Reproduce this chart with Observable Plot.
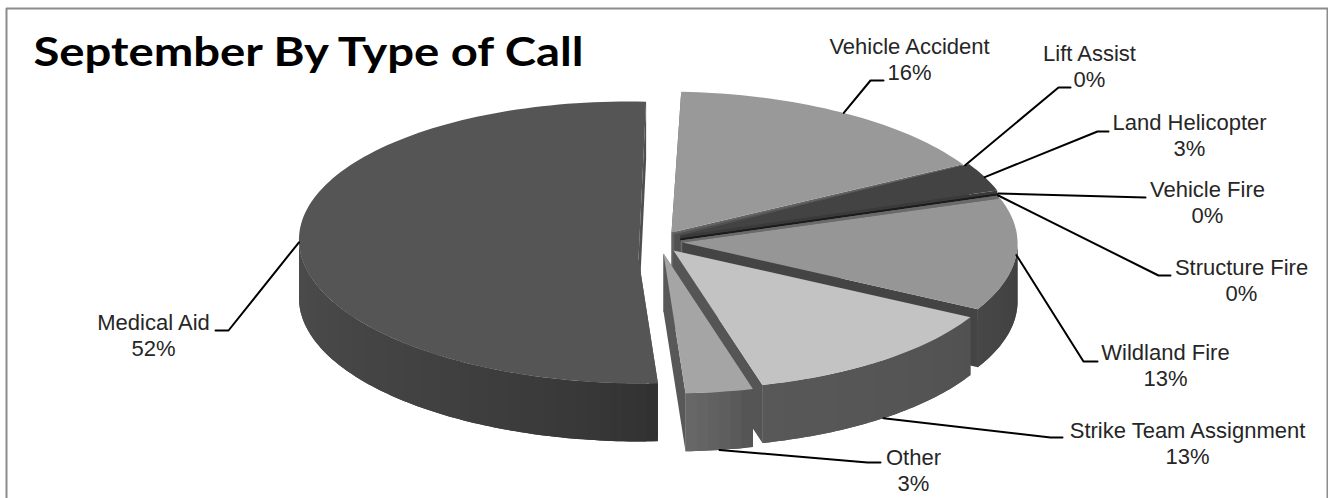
<!DOCTYPE html>
<html>
<head>
<meta charset="utf-8">
<style>
html,body{margin:0;padding:0;background:#fff;overflow:hidden}
svg{display:block}
</style>
<script src="https://cdn.jsdelivr.net/npm/d3@7"></script>
<script src="https://cdn.jsdelivr.net/npm/@observablehq/plot@0.6"></script>
</head>
<body>
<script>
// DATA
const titleText = "September By Type of Call";
const categories = ["Vehicle Accident","Lift Assist","Land Helicopter","Vehicle Fire","Structure Fire","Wildland Fire","Strike Team Assignment","Other","Medical Aid"];
const calls = [5,0,1,0,0,4,4,1,16];

// LOOK: per-slice explosion centre, apex, radius, shades
const centreX = [669.5,672,676,677,677,679,671.5,662,634.5];
const centreY = [232,233,232,235,237,240,248,252,242];
const apexX   = [671,674,680,680,680,682,673,663,638];
const apexY   = [232,234,235,238,240,242,250,253,258];
const radiusX = [338,338,338,338,338,338,338,338,336];
const topShade  = ["#999999","#555555","#434343","#2a2a2a","#6a6a6a","#969696","#c3c3c3","#a5a5a5","#555555"];
const wallShade = ["#636363","#505050","#3a3a3a","#1c1c1c","#6a6a6a","#444444","#555555","#585858","#4f4f4f"];
// side wall shade at the left-hand and right-hand end of each slice's outer wall
const sideLeft  = ["#666666","#555555","#444444","#333333","#666666","#474747","#585858","#686868","#4c4c4c"];
const sideRight = ["#666666","#555555","#444444","#333333","#666666","#3c3c3c","#505050","#4f4f4f","#2f2f2f"];
// label layout: text centre, elbow, elbow end, whether the leader sits on the lower rim
const labelX = [909,1089,1189,1207,1241,1165,1187,913,153];
const labelY = [46,53,122,189,267,352,430,457,322];
const elbowX = [870,1058,1097,1145,1158,1083,1050,867,228];
const elbowY = [80,87,131,197,275,361,437,462,330];
const stubX  = [883,1070,1108,1145,1170,1097,1062,880,215];
const onLowerRim = [false,false,false,false,false,false,true,true,false];

const radiusY = 141, depth = 58, shear = 0.046, startAngle = 3;
const total = d3.sum(calls);
const rad = d => d * Math.PI / 180;
const rim = (i, a, drop = 0) => {
  const s = Math.sin(rad(a)), c = Math.cos(rad(a));
  return [centreX[i] + radiusX[i] * s - shear * radiusY * c, centreY[i] - radiusY * c + drop];
};

// angles from the call counts
let acc = startAngle;
const starts = [], ends = [];
calls.forEach(v => { starts.push(acc); acc += v / total * 360; ends.push(acc); });

const polys = [];
let pid = 0;
const addPoly = (list, pts, shade) => { const id = pid++; pts.forEach(([x,y]) => list.push({x,y,id,shade})); };

// painter's order: medical aid first, then clockwise from the back
const order = [8,0,1,2,3,4,5,6,7];
for (const i of order) {
  const ap = [apexX[i], apexY[i]];
  for (const a of [starts[i], ends[i]]) {
    addPoly(polys, [ap, rim(i,a), rim(i,a,depth), [ap[0], ap[1]+depth]], wallShade[i]);
  }
  const lo = Math.max(starts[i], 90), hi = Math.min(ends[i], 270);
  if (hi > lo) {
    const n = Math.max(2, Math.ceil((hi-lo)/2));
    const mix = d3.interpolateRgb(sideRight[i], sideLeft[i]);
    for (let k=0;k<n;k++) {
      // every band runs on under the next one so no seam shows
      const a1 = lo+(hi-lo)*k/n, a2 = Math.min(hi, lo+(hi-lo)*(k+2)/n);
      const arc = d3.range(0,5).map(j => a1+(a2-a1)*j/4);
      const pts = [...arc.map(a=>rim(i,a)), ...arc.slice().reverse().map(a=>rim(i,a,depth))];
      addPoly(polys, pts, mix(Math.pow((k+0.5)/n, 0.6)));
    }
  }
  if (calls[i] > 0) {
    const pts = [ap];
    const n = Math.ceil((ends[i]-starts[i])/1.5);
    for (let k=0;k<=n;k++) pts.push(rim(i, starts[i]+(ends[i]-starts[i])*k/n));
    addPoly(polys, pts, topShade[i]);
  }
}

const leaders = [];
categories.forEach((c,i) => {
  const p = rim(i,(starts[i]+ends[i])/2, onLowerRim[i]?depth:0);
  [p,[elbowX[i],elbowY[i]],[stubX[i],elbowY[i]]].forEach(([x,y]) => leaders.push({x,y,i}));
});
const labels = categories.map((c,i) => ({c, x:labelX[i], y:labelY[i], pct: Math.round(calls[i]/total*100)+"%"}));
const frame = [{x:6,y:498},{x:6,y:8},{x:1327,y:8},{x:1327,y:498}];

const chart = Plot.plot({
  width:1328, height:498, margin:0,
  x:{domain:[0,1328],range:[0,1328],axis:null},
  y:{domain:[0,498],range:[0,498],axis:null},
  color:{type:"identity"},
  style:{background:"#fff"},
  marks:[
    Plot.line(frame,{x:"x",y:"y",stroke:"#8c8c8c",strokeWidth:2}),
    Plot.line(polys,{x:"x",y:"y",z:"id",fill:"shade",stroke:"none"}),
    Plot.line(leaders,{x:"x",y:"y",z:"i",stroke:"#000",strokeWidth:2}),
    Plot.text(labels,{x:"x",y:"y",text:"c",fontFamily:"Liberation Sans",fontSize:22,fill:"#262626",textAnchor:"middle"}),
    Plot.text(labels,{x:"x",y:d=>d.y+26,text:"pct",fontFamily:"Liberation Sans",fontSize:22,fill:"#262626",textAnchor:"middle"}),
    Plot.text([titleText],{x:()=>33,y:()=>52.5,text:d=>d,fontFamily:"Lato",fontWeight:"bold",fontSize:40,fill:"#000",textAnchor:"start",className:"chart-title"})
  ]
});
document.body.appendChild(chart);
chart.querySelectorAll(".chart-title text").forEach(t => { t.setAttribute("textLength","550"); t.setAttribute("lengthAdjust","spacingAndGlyphs"); });
</script>
</body>
</html>
